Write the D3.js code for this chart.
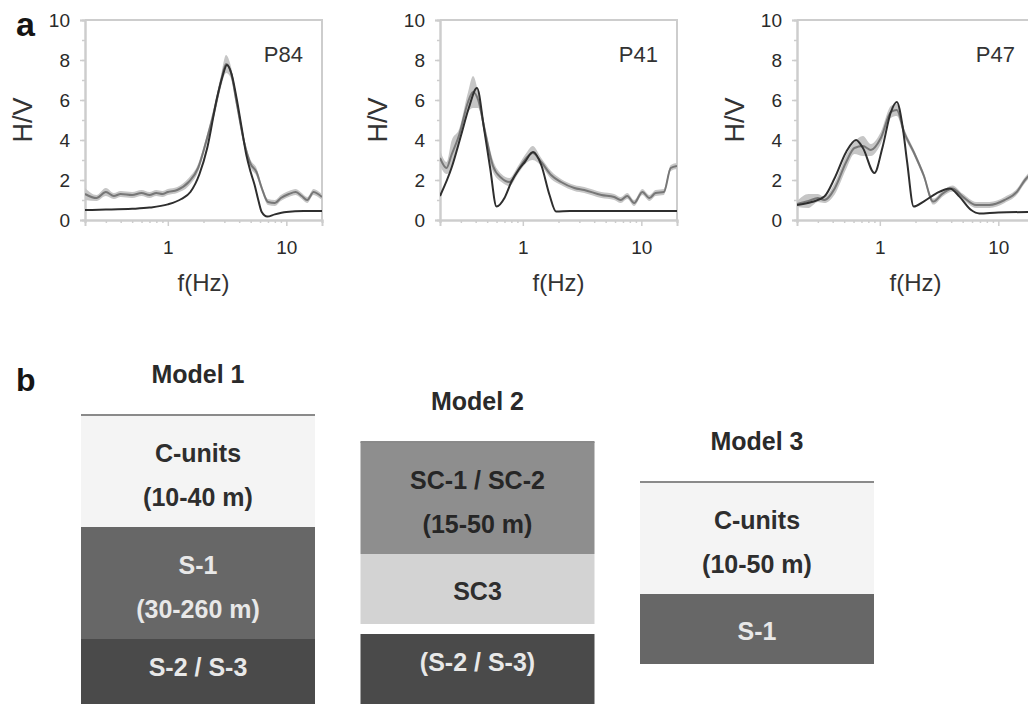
<!DOCTYPE html>
<html>
<head>
<meta charset="utf-8">
<script src="https://cdn.jsdelivr.net/npm/d3@7"></script>
<style>
body { margin: 0; background: #fff; }
text { font-family: "Liberation Sans", Arial, sans-serif; }
</style>
</head>
<body>
<script>
// ---- part a : H/V spectral ratios ----
var stations = ['P84', 'P41', 'P47'];

// observed H/V (grey line) with its spread (light band)
var p84ObsF  = [0.2, 0.25, 0.3, 0.35, 0.4, 0.5, 0.6, 0.7, 0.8, 0.9, 1.0, 1.2, 1.5, 1.8, 2.1, 2.5, 2.8, 3.1, 3.4, 3.8, 4.4, 5.0, 5.6, 6.2, 7.0, 8.0, 9.0, 10.5, 12, 13.5, 15, 17, 18.5, 20];
var p84ObsHv = [1.3, 1.1, 1.4, 1.2, 1.3, 1.25, 1.35, 1.25, 1.35, 1.3, 1.4, 1.5, 1.9, 2.6, 3.9, 5.6, 6.9, 7.8, 7.4, 5.9, 3.9, 2.8, 2.4, 1.6, 0.9, 0.85, 1.1, 1.3, 1.4, 1.2, 1.0, 1.4, 1.3, 1.15];
var p84ObsSd = [0.3, 0.15, 0.2, 0.15, 0.15, 0.15, 0.15, 0.15, 0.15, 0.15, 0.15, 0.15, 0.2, 0.2, 0.2, 0.3, 0.3, 0.45, 0.3, 0.25, 0.2, 0.2, 0.2, 0.15, 0.15, 0.15, 0.15, 0.15, 0.15, 0.15, 0.15, 0.15, 0.15, 0.15];

var p41ObsF  = [0.2, 0.227, 0.25, 0.29, 0.345, 0.38, 0.42, 0.48, 0.56, 0.66, 0.77, 0.91, 1.07, 1.21, 1.43, 1.73, 2.1, 2.72, 3.3, 4.6, 5.9, 6.7, 7.6, 8.7, 10.2, 11.7, 13.2, 15.5, 17.7, 20];
var p41ObsHv = [3.1, 2.6, 3.25, 4.25, 5.9, 6.4, 6.0, 4.4, 2.7, 2.1, 1.9, 2.5, 3.1, 3.35, 2.9, 2.25, 1.9, 1.6, 1.5, 1.25, 1.15, 1.0, 1.2, 0.85, 1.4, 1.1, 1.35, 1.4, 2.6, 2.7];
var p41ObsSd = [0.4, 0.3, 0.7, 0.3, 0.5, 0.8, 0.4, 0.3, 0.3, 0.2, 0.2, 0.2, 0.25, 0.35, 0.2, 0.2, 0.15, 0.15, 0.15, 0.15, 0.15, 0.15, 0.15, 0.15, 0.15, 0.15, 0.15, 0.15, 0.15, 0.15];

var p47ObsF  = [0.2, 0.25, 0.3, 0.34, 0.416, 0.52, 0.61, 0.72, 0.84, 1.02, 1.24, 1.39, 1.6, 1.93, 2.34, 2.82, 3.4, 4.1, 5.0, 6.5, 8.4, 11.3, 14.4, 16.8, 18];
var p47ObsHv = [0.8, 0.95, 1.1, 1.0, 1.58, 2.9, 3.6, 3.7, 3.5, 4.1, 5.4, 5.5, 4.4, 3.4, 2.25, 0.92, 1.33, 1.58, 1.17, 0.75, 0.75, 1.0, 1.42, 2.0, 2.2];
var p47ObsSd = [0.15, 0.35, 0.2, 0.15, 0.3, 0.35, 0.3, 0.5, 0.3, 0.3, 0.3, 0.3, 0.2, 0.15, 0.15, 0.15, 0.15, 0.15, 0.15, 0.15, 0.15, 0.15, 0.15, 0.15, 0.15];

// theoretical H/V of the model (dark line)
var p84FitF  = [0.2, 0.3, 0.5, 0.7, 1.0, 1.3, 1.55, 1.85, 2.15, 2.6, 2.9, 3.15, 3.45, 3.8, 4.2, 4.6, 5.0, 5.4, 5.8, 6.2, 6.9, 8, 10, 14, 20];
var p84FitHv = [0.5, 0.52, 0.56, 0.62, 0.78, 1.05, 1.4, 2.3, 3.6, 6.1, 7.2, 7.75, 7.3, 6.1, 4.6, 3.25, 2.4, 1.75, 1.0, 0.4, 0.17, 0.28, 0.4, 0.45, 0.45];

var p41FitF  = [0.2, 0.25, 0.3, 0.35, 0.41, 0.47, 0.53, 0.6, 0.7, 0.8, 0.92, 1.04, 1.22, 1.43, 1.68, 1.91, 2.5, 5, 10, 20];
var p41FitHv = [1.2, 2.6, 4.2, 5.6, 6.6, 4.6, 2.6, 0.67, 1.1, 1.9, 2.5, 2.9, 3.4, 2.75, 1.25, 0.42, 0.45, 0.45, 0.45, 0.45];

var p47FitF  = [0.2, 0.266, 0.34, 0.416, 0.52, 0.63, 0.72, 0.9, 1.05, 1.24, 1.39, 1.55, 1.7, 1.93, 2.34, 3.0, 3.9, 4.7, 5.9, 6.9, 10, 20];
var p47FitHv = [0.75, 0.9, 1.17, 2.1, 3.4, 4.0, 3.6, 2.35, 3.6, 5.4, 5.9, 4.75, 2.9, 0.67, 0.92, 1.33, 1.58, 1.17, 0.5, 0.33, 0.38, 0.4];

var yTicks = [0, 2, 4, 6, 8, 10];
var xTicks = [1, 10];

// ---- part b : layer models ----
var models = ['Model 1', 'Model 2', 'Model 3'];
var model1Layers = [
    {unit: 'C',    lines: ['C-units', '(10-40 m)']},
    {unit: 'S1',   lines: ['S-1', '(30-260 m)']},
    {unit: 'S23',  lines: ['S-2 / S-3'], open: true}
];
var model2Layers = [
    {unit: 'SC12', lines: ['SC-1 / SC-2', '(15-50 m)']},
    {unit: 'SC3',  lines: ['SC3']},
    {unit: 'S23',  lines: ['(S-2 / S-3)'], open: true, inferred: true}
];
var model3Layers = [
    {unit: 'C',    lines: ['C-units', '(10-50 m)']},
    {unit: 'S1',   lines: ['S-1']}
];

var unitFill = {C: '#f4f4f4', S1: '#676767', S23: '#4a4a4a', SC12: '#8e8e8e', SC3: '#d3d3d3'};
var unitText = {C: '#2e2e2e', S1: '#e8e8e8', S23: '#e8e8e8', SC12: '#262626', SC3: '#2e2e2e'};

var width = 1028,
    height = 704;

var svg = d3.select('body').append('svg')
    .attr('width', width)
    .attr('height', height);

var panels = [
    {name: stations[0], obsF: p84ObsF, obsHv: p84ObsHv, obsSd: p84ObsSd, fitF: p84FitF, fitHv: p84FitHv},
    {name: stations[1], obsF: p41ObsF, obsHv: p41ObsHv, obsSd: p41ObsSd, fitF: p41FitF, fitHv: p41FitHv},
    {name: stations[2], obsF: p47ObsF, obsHv: p47ObsHv, obsSd: p47ObsSd, fitF: p47FitF, fitHv: p47FitHv}
];

var pw = 237, ph = 200, ptop = 20;
var pLeft = [85, 440, 797];

var x = d3.scaleLog().domain([0.2, 20]).range([0, pw]);
var y = d3.scaleLinear().domain([0, 10]).range([ph, 0]);

var frameColor = '#cdcdcd';

panels.forEach(function(p, i) {
    var g = svg.append('g')
        .attr('transform', 'translate(' + pLeft[i] + ',' + ptop + ')');

    g.append('clipPath').attr('id', 'clip' + i)
        .append('rect').attr('width', pw).attr('height', ph);

    // top and right edges of the frame
    g.append('path')
        .attr('d', 'M0,0H' + pw + 'V' + ph)
        .attr('fill', 'none')
        .attr('stroke', frameColor)
        .attr('stroke-width', 2);

    // minor ticks
    g.append('g').call(d3.axisLeft(y).tickValues(d3.range(1, 10)).tickSize(3).tickFormat(''))
        .call(styleAxis);
    var minorX = d3.range(2, 10).map(function(d) { return d / 10; })
        .concat(d3.range(2, 10), [20]);
    g.append('g').attr('transform', 'translate(0,' + ph + ')')
        .call(d3.axisBottom(x).tickValues(minorX).tickSize(3).tickFormat(''))
        .call(styleAxis);

    // major axes
    g.append('g')
        .call(d3.axisLeft(y).tickValues(yTicks).tickSize(5).tickPadding(10))
        .call(styleAxis);
    g.append('g').attr('transform', 'translate(0,' + ph + ')')
        .call(d3.axisBottom(x).tickValues(xTicks).tickSize(6).tickPadding(15).tickFormat(d3.format('d')))
        .call(styleAxis);

    var obs = p.obsF.map(function(f, k) { return {f: f, hv: p.obsHv[k], sd: p.obsSd[k]}; });
    var fit = p.fitF.map(function(f, k) { return {f: f, hv: p.fitHv[k]}; });

    var plot = g.append('g').attr('clip-path', 'url(#clip' + i + ')');

    plot.append('path')
        .datum(obs)
        .attr('d', d3.area()
            .x(function(d) { return x(d.f); })
            .y0(function(d) { return y(d.hv - d.sd); })
            .y1(function(d) { return y(d.hv + d.sd); })
            .curve(d3.curveMonotoneX))
        .attr('fill', '#c6c6c6');

    plot.append('path')
        .datum(obs)
        .attr('d', d3.line()
            .x(function(d) { return x(d.f); })
            .y(function(d) { return y(d.hv); })
            .curve(d3.curveMonotoneX))
        .attr('fill', 'none')
        .attr('stroke', '#777')
        .attr('stroke-width', 2);

    plot.append('path')
        .datum(fit)
        .attr('d', d3.line()
            .x(function(d) { return x(d.f); })
            .y(function(d) { return y(d.hv); })
            .curve(d3.curveMonotoneX))
        .attr('fill', 'none')
        .attr('stroke', '#2e2e2e')
        .attr('stroke-width', 2);

    g.append('text')
        .attr('x', pw - 19).attr('y', 42)
        .attr('text-anchor', 'end')
        .attr('font-size', 22)
        .attr('fill', '#333')
        .text(p.name);

    g.append('text')
        .attr('transform', 'translate(-62,' + (ph / 2) + ')rotate(-90)')
        .attr('text-anchor', 'middle')
        .attr('dominant-baseline', 'central')
        .attr('font-size', 27)
        .attr('fill', '#333')
        .text('H/V');

    g.append('text')
        .attr('x', pw / 2).attr('y', 271)
        .attr('text-anchor', 'middle')
        .attr('font-size', 24)
        .attr('fill', '#333')
        .text('f(Hz)');
});

function styleAxis(sel) {
    sel.select('.domain').attr('stroke', frameColor).attr('stroke-width', 2);
    sel.selectAll('.tick line').attr('stroke', frameColor).attr('stroke-width', 1.5);
    sel.selectAll('.tick text').attr('font-size', 19).attr('fill', '#2a2a2a')
        .attr('font-family', '"Liberation Sans", Arial, sans-serif');
}

svg.append('text').attr('x', 16).attr('y', 36)
    .attr('font-size', 34).attr('font-weight', 'bold').attr('fill', '#151515').text('a');
svg.append('text').attr('x', 16).attr('y', 391)
    .attr('font-size', 32).attr('font-weight', 'bold').attr('fill', '#151515').text('b');

// ---- layer columns ----
var colW = 234;
var cx = d3.scalePoint().domain(models).range([198, 757]);
var colTop = [415, 442, 482];
var allLayers = [model1Layers, model2Layers, model3Layers];

function layerHeight(l) { return l.open ? 90 : 28 + 42 * l.lines.length; }

models.forEach(function(m, i) {
    var left = cx(m) - colW / 2;
    var g = svg.append('g').attr('transform', 'translate(' + left + ',' + colTop[i] + ')');

    svg.append('text')
        .attr('x', cx(m)).attr('y', colTop[i] - 32)
        .attr('text-anchor', 'middle')
        .attr('font-size', 25).attr('font-weight', 'bold')
        .attr('fill', '#2a2a2a')
        .text(m);

    var top = 0;
    allLayers[i].forEach(function(l) {
        if (l.inferred) top += 10;
        var h = layerHeight(l);
        g.append('rect')
            .attr('x', 0).attr('y', top)
            .attr('width', colW).attr('height', h)
            .attr('fill', unitFill[l.unit]);
        var c0 = l.lines.length === 2 ? 38 : (l.open ? 28 : 37);
        l.lines.forEach(function(t, k) {
            g.append('text')
                .attr('x', colW / 2).attr('y', top + c0 + k * 44)
                .attr('text-anchor', 'middle')
                .attr('dominant-baseline', 'central')
                .attr('font-size', 25)
                .attr('font-weight', 'bold')
                .attr('fill', unitText[l.unit])
                .text(t);
        });
        top += h;
    });

    g.append('line')
        .attr('x1', 0).attr('x2', colW)
        .attr('stroke', '#8a8a8a').attr('stroke-width', 2);
});
</script>
</body>
</html>
